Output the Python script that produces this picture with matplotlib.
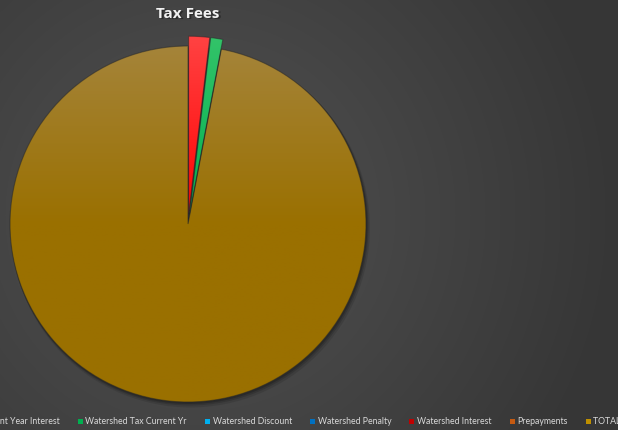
import numpy as np
import matplotlib
matplotlib.use("Agg")
import matplotlib.pyplot as plt
from matplotlib.colors import LinearSegmentedColormap
from matplotlib.patches import Patch

# Fee categories, in series order (pie runs clockwise from 12 o'clock)
categories = [
    "Tax Current Year Interest",
    "Watershed Tax Current Yr",
    "Watershed Discount",
    "Watershed Penalty",
    "Watershed Interest",
    "Prepayments",
    "TOTAL TAX FEES",
]
# Share of each category (percent)
values = [1.9, 1.1, 0.0, 0.0, 0.0, 0.0, 97.0]
# Slice / legend colours
legend_colors = ["#FF0000", "#00B050", "#00B0F0", "#0070C0", "#C00000", "#C55A11", "#BF9000"]
# Gradient (top, bottom) fill of the visible slices
slice_gradients = {
    0: ("#FF4545", "#FF0000"),
    1: ("#35C46A", "#00B050"),
    6: ("#A6863F", "#9A7000"),
}
explode = [0.055, 0.055, 0, 0, 0, 0, 0]
title = "Tax Fees"

W, H, DPI = 618, 430, 100
fig = plt.figure(figsize=(W / DPI, H / DPI), dpi=DPI)

# Background: dark radial gradient
bg = fig.add_axes([0, 0, 1, 1])
bg.set_axis_off()
yy, xx = np.mgrid[0:H, 0:W]
d = np.hypot((xx - 200) / 420.0, (yy - 215) / 420.0)
d = np.clip(d, 0, 1)
c0 = np.array([0x52, 0x52, 0x52]) / 255.0
c1 = np.array([0x36, 0x36, 0x36]) / 255.0
img = c0[None, None, :] * (1 - d[..., None]) + c1[None, None, :] * d[..., None]
bg.imshow(img, extent=[0, 1, 0, 1], aspect="auto", zorder=0)
bg.set_xlim(0, 1)
bg.set_ylim(0, 1)

# Pie axes (limits leave room for the exploded slices)
cx, cy, R = 188, 224, 178
L = 1.12
ax = fig.add_axes([(cx - L * R) / W, (H - cy - L * R) / H, 2 * L * R / W, 2 * L * R / H])
ax.set_axis_off()

# soft drop shadow under the pie
for off, a in [(0.022, 0.10), (0.014, 0.14), (0.008, 0.18)]:
    sh = plt.Circle((off * 0.6, -off), 1.0 + off * 0.4, color="black", alpha=a, lw=0, zorder=1)
    ax.add_patch(sh)

wedges, _ = ax.pie(
    values,
    colors=legend_colors,
    startangle=90,
    counterclock=False,
    explode=explode,
    radius=1.0,
    wedgeprops=dict(linewidth=0.8, edgecolor=(0.15, 0.15, 0.15, 0.5)),
    normalize=True,
)

# gradient fill clipped to each visible wedge
grad = np.linspace(0, 1, 256)[:, None]
for idx, (top, bot) in slice_gradients.items():
    cmap = LinearSegmentedColormap.from_list(f"g{idx}", [top, bot, bot], N=256)
    im = ax.imshow(grad, cmap=cmap, extent=[-1.1, 1.1, -1.1, 1.1],
                   origin="upper", aspect="auto", zorder=3)
    im.set_clip_path(wedges[idx])
    wedges[idx].set_zorder(4)
    wedges[idx].set_facecolor("none")
ax.set_xlim(-L, L)
ax.set_ylim(-L, L)

# Title
fig.text(cx / W + 0.002, 1 - 14.5 / H - 0.002, title, ha="center", va="center",
         fontsize=11, fontweight="bold", family="Open Sans", color="black", alpha=0.35)
fig.text(cx / W, 1 - 14.5 / H, title, ha="center", va="center",
         fontsize=11, fontweight="bold", family="Open Sans", color="#F2F2F2")

# Legend along the bottom (wider than the chart area)
handles = [Patch(facecolor=c, edgecolor="none") for c in legend_colors]
fs = 6.3
leg = fig.legend(
    handles, categories, loc="center left", bbox_to_anchor=(-0.074, 1 - 422 / H),
    ncol=len(categories), frameon=False,
    handlelength=0.58, handleheight=0.65, handletextpad=0.29, columnspacing=2.07,
    borderpad=0, borderaxespad=0,
    prop=dict(family="Lato", size=fs),
)
for t in leg.get_texts():
    t.set_color("#D9D9D9")

fig.savefig("out.png", dpi=DPI)
